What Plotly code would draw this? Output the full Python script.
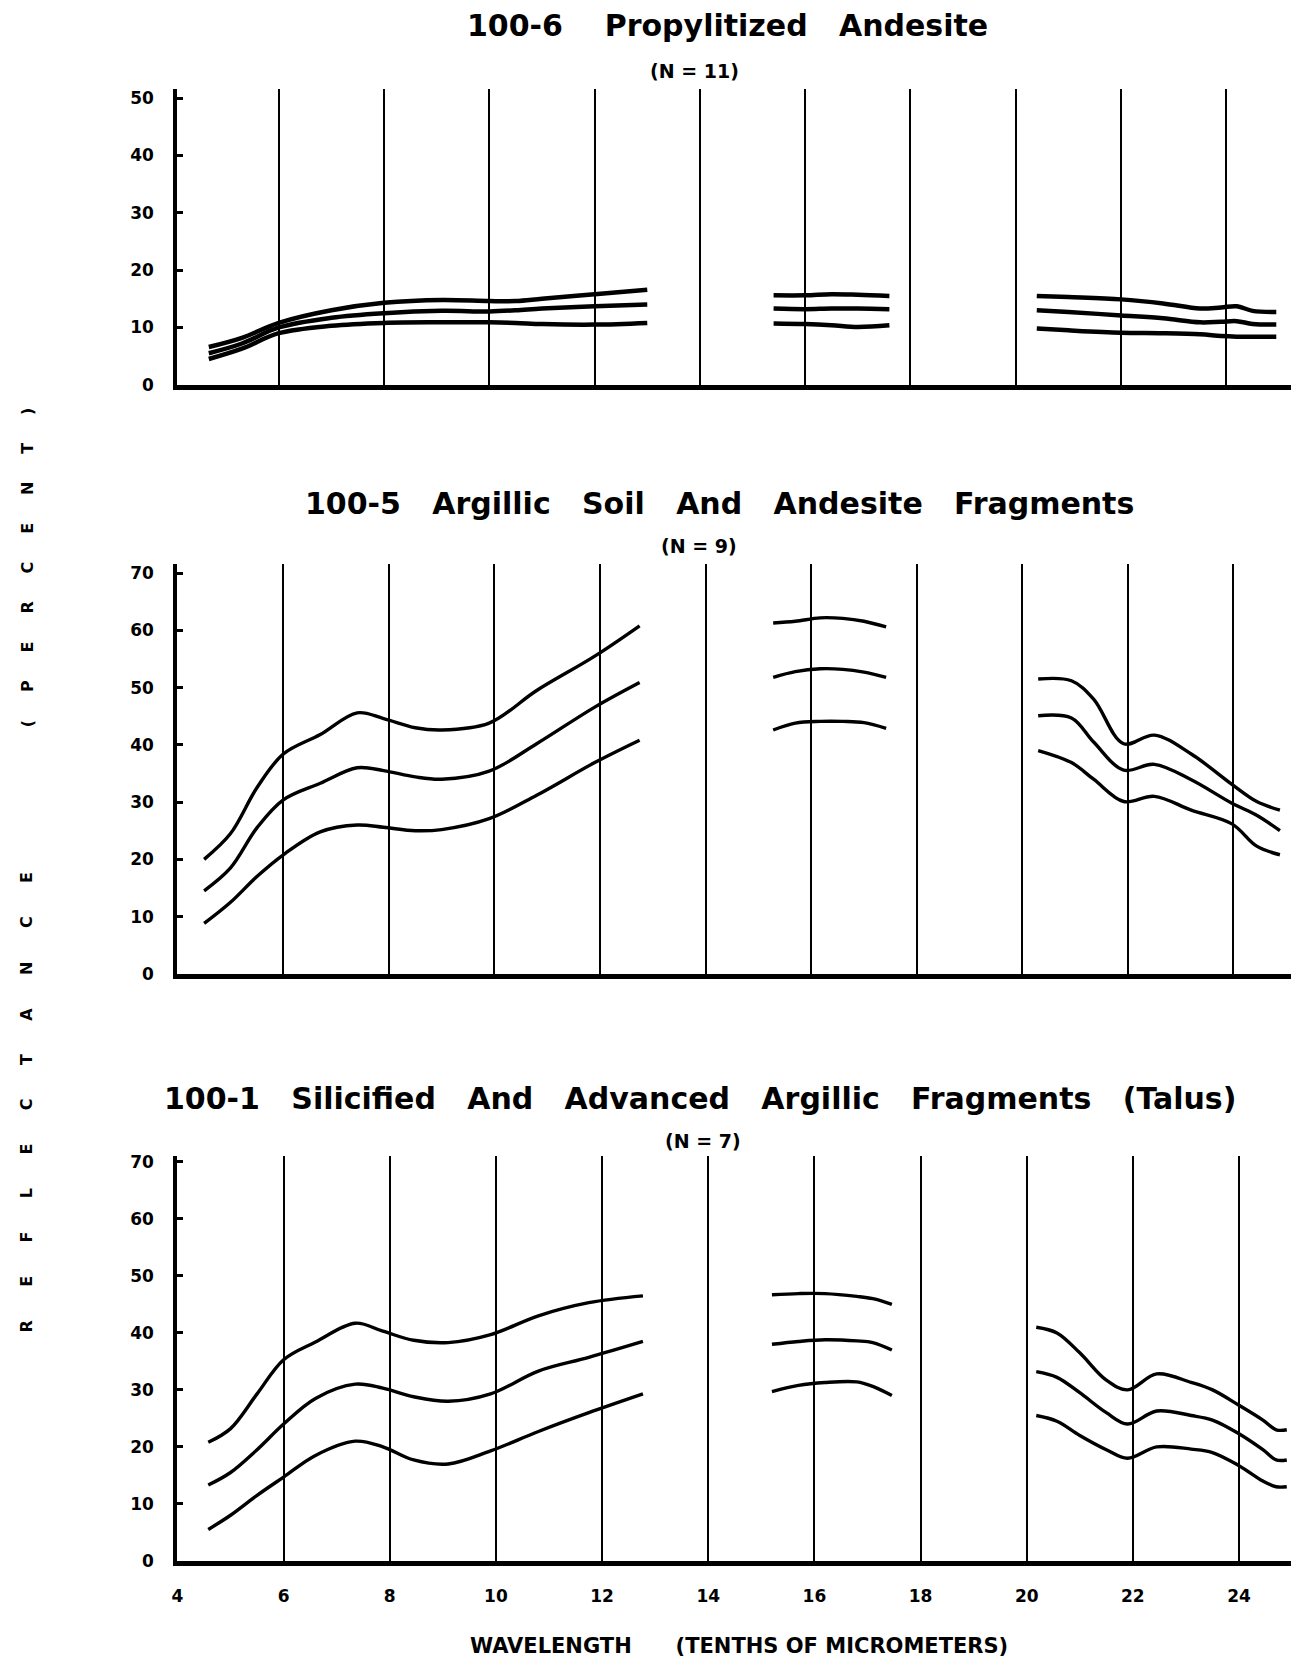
import plotly.graph_objects as go

W, H = 1296, 1668
NB = "\u00a0"

# ---------------- data ----------------
# Panel 1: 100-6 Propylitized Andesite (N=11)
p1_s1_x = [4.67, 5.3, 6.0, 7.0, 8.0, 9.1, 10.0, 10.5, 11.0, 12.0, 13.0]
p1_s1_top = [6.6, 8.2, 10.8, 13.0, 14.3, 14.8, 14.6, 14.6, 15.0, 15.8, 16.6]
p1_s1_mid = [5.5, 7.2, 10.0, 11.7, 12.5, 12.9, 12.8, 13.0, 13.3, 13.7, 14.0]
p1_s1_bot = [4.5, 6.3, 9.0, 10.3, 10.8, 10.9, 10.9, 10.8, 10.6, 10.5, 10.8]
p1_s2_x = [15.4, 16.0, 16.5, 17.0, 17.6]
p1_s2_top = [15.6, 15.6, 15.8, 15.7, 15.5]
p1_s2_mid = [13.3, 13.2, 13.3, 13.3, 13.2]
p1_s2_bot = [10.7, 10.6, 10.4, 10.1, 10.4]
p1_s3_x = [20.4, 21.0, 22.0, 22.8, 23.5, 23.9, 24.2, 24.5, 24.95]
p1_s3_top = [15.5, 15.3, 14.9, 14.2, 13.3, 13.5, 13.7, 12.9, 12.7]
p1_s3_mid = [13.0, 12.7, 12.1, 11.6, 10.9, 11.0, 11.1, 10.6, 10.5]
p1_s3_bot = [9.8, 9.5, 9.1, 9.0, 8.8, 8.5, 8.4, 8.4, 8.4]

# Panel 2: 100-5 Argillic Soil And Andesite Fragments (N=9)
p2_s1_x = [4.5, 5.0, 5.5, 6.0, 6.7, 7.4, 7.9, 8.5, 9.0, 9.9, 10.8, 11.9, 12.75]
p2_s1_top = [20.0, 24.5, 32.5, 38.4, 41.8, 45.6, 44.6, 43.0, 42.6, 43.8, 49.5, 55.5, 60.8]
p2_s1_mid = [14.5, 18.5, 25.5, 30.4, 33.3, 36.0, 35.5, 34.4, 34.0, 35.4, 40.2, 46.6, 50.9]
p2_s1_bot = [8.8, 12.5, 17.0, 20.8, 24.8, 26.0, 25.6, 25.0, 25.2, 27.1, 31.2, 36.9, 40.8]
p2_s2_x = [15.28, 15.7, 16.17, 16.6, 17.0, 17.42]
p2_s2_top = [61.3, 61.6, 62.2, 62.1, 61.6, 60.6]
p2_s2_mid = [51.8, 52.8, 53.3, 53.2, 52.7, 51.8]
p2_s2_bot = [42.6, 43.8, 44.1, 44.1, 43.9, 42.9]
p2_s3_x = [20.3, 20.93, 21.35, 21.92, 22.5, 23.2, 23.97, 24.44, 24.88]
p2_s3_top = [51.5, 51.2, 48.0, 40.2, 41.7, 38.4, 33.1, 30.1, 28.6]
p2_s3_mid = [45.1, 44.7, 40.5, 35.6, 36.6, 33.9, 29.8, 27.7, 25.0]
p2_s3_bot = [39.0, 36.9, 34.0, 30.1, 31.0, 28.6, 26.2, 22.3, 20.8]

# Panel 3: 100-1 Silicified And Advanced Argillic Fragments (Talus) (N=7)
p3_s1_x = [4.58, 5.0, 5.5, 6.0, 6.6, 7.35, 7.87, 8.45, 9.1, 9.9, 10.8, 11.75, 12.77]
p3_s1_top = [20.8, 23.2, 29.3, 35.3, 38.4, 41.7, 40.3, 38.7, 38.3, 39.7, 43.0, 45.3, 46.5]
p3_s1_mid = [13.3, 15.5, 19.5, 24.0, 28.5, 31.0, 30.3, 28.8, 28.0, 29.3, 33.3, 35.7, 38.5]
p3_s1_bot = [5.5, 8.0, 11.5, 14.7, 18.5, 21.0, 20.0, 17.7, 17.0, 19.3, 22.7, 26.0, 29.3]
p3_s2_x = [15.2, 15.7, 16.2, 16.8, 17.1, 17.46]
p3_s2_top = [46.7, 46.9, 46.9, 46.4, 46.0, 45.0]
p3_s2_mid = [38.0, 38.5, 38.8, 38.6, 38.3, 37.0]
p3_s2_bot = [29.7, 30.8, 31.3, 31.4, 30.6, 29.0]
p3_s3_x = [20.18, 20.57, 21.0, 21.5, 21.9, 22.45, 23.1, 23.5, 24.0, 24.45, 24.7, 24.9]
p3_s3_top = [41.0, 40.0, 36.5, 31.7, 30.0, 32.8, 31.3, 30.0, 27.3, 24.7, 23.0, 23.0]
p3_s3_mid = [33.2, 32.2, 29.5, 26.0, 24.0, 26.3, 25.5, 24.7, 22.3, 19.5, 17.7, 17.7]
p3_s3_bot = [25.5, 24.5, 22.0, 19.5, 18.0, 20.0, 19.6, 19.0, 16.7, 14.0, 13.0, 13.0]

x_ticks = [4, 6, 8, 10, 12, 14, 16, 18, 20, 22, 24]
y_ticks_p1 = [0, 10, 20, 30, 40, 50]
y_ticks_p23 = [0, 10, 20, 30, 40, 50, 60, 70]

titles = [
    "100-6" + NB * 4 + "Propylitized" + NB * 3 + "Andesite",
    "100-5" + NB * 3 + "Argillic" + NB * 3 + "Soil" + NB * 3 + "And" + NB * 3 + "Andesite" + NB * 3 + "Fragments",
    "100-1" + NB * 3 + "Silicified" + NB * 3 + "And" + NB * 3 + "Advanced" + NB * 3 + "Argillic"
    + NB * 3 + "Fragments" + NB * 3 + "(Talus)",
]
n_labels = ["(N = 11)", "(N = 9)", "(N = 7)"]

# ---------------- figure ----------------
FONT = "DejaVu Sans"
fig = go.Figure()

panels = [
    ("x", "y", [(p1_s1_x, p1_s1_top, p1_s1_mid, p1_s1_bot),
                (p1_s2_x, p1_s2_top, p1_s2_mid, p1_s2_bot),
                (p1_s3_x, p1_s3_top, p1_s3_mid, p1_s3_bot)], 4.5),
    ("x2", "y2", [(p2_s1_x, p2_s1_top, p2_s1_mid, p2_s1_bot),
                  (p2_s2_x, p2_s2_top, p2_s2_mid, p2_s2_bot),
                  (p2_s3_x, p2_s3_top, p2_s3_mid, p2_s3_bot)], 3.4),
    ("x3", "y3", [(p3_s1_x, p3_s1_top, p3_s1_mid, p3_s1_bot),
                  (p3_s2_x, p3_s2_top, p3_s2_mid, p3_s2_bot),
                  (p3_s3_x, p3_s3_top, p3_s3_mid, p3_s3_bot)], 3.4),
]
for xa, ya, segs, lw in panels:
    for sx, top, mid, bot in segs:
        for ys in (top, mid, bot):
            fig.add_trace(go.Scatter(
                x=sx, y=ys, mode="lines", xaxis=xa, yaxis=ya,
                line=dict(color="black", width=lw, shape="spline", smoothing=1.0),
                showlegend=False, hoverinfo="skip"))


def fy(p):
    return 1 - p / H


def fx(p):
    return p / W


xdom = [fx(172), fx(1291)]
# (top px, zero px, y range top, x range, y ticks)
geo = [
    (86, 384, 51.56, [4.07, 25.23], y_ticks_p1),
    (565, 978, 71.56, [3.99, 25.09], y_ticks_p23),
    (1162, 1570, 71.0, [3.995, 24.98], y_ticks_p23),
]

tickfont = dict(family=FONT, size=17, color="black", weight="bold")
for i, (top, zero, ytop, xr, yt) in enumerate(geo):
    sfx = "" if i == 0 else str(i + 1)
    fig.layout["xaxis" + sfx] = dict(
        domain=xdom, range=xr, anchor="y" + sfx,
        tickmode="array", tickvals=x_ticks,
        showticklabels=(i == 2), tickfont=tickfont, ticks="",
        ticklabelstandoff=16,
        showgrid=True, gridcolor="black", gridwidth=1.8,
        showline=True, linecolor="black", linewidth=5,
        zeroline=False, fixedrange=True,
    )
    fig.layout["yaxis" + sfx] = dict(
        domain=[fy(zero), fy(top)], range=[0, ytop], anchor="x" + sfx,
        tickmode="array", tickvals=yt, tickfont=tickfont,
        ticks="inside", ticklen=6, tickwidth=3, tickcolor="black",
        ticklabelstandoff=16,
        showgrid=False, showline=True, linecolor="black", linewidth=4,
        zeroline=False, fixedrange=True,
    )

annotations = []
title_pos = [(725, 22), (717, 504), (697, 1104)]
n_pos = [(692, 68), (696, 547), (700, 1147)]
for t, (cx, cy) in zip(titles, title_pos):
    annotations.append(dict(text=t, x=fx(cx), y=fy(cy), xref="paper", yref="paper",
                            xanchor="center", yanchor="middle", showarrow=False,
                            font=dict(family=FONT, size=30, color="black", weight="bold")))
for t, (cx, cy) in zip(n_labels, n_pos):
    annotations.append(dict(text=t, x=fx(cx), y=fy(cy), xref="paper", yref="paper",
                            xanchor="center", yanchor="middle", showarrow=False,
                            font=dict(family=FONT, size=19, color="black", weight="bold")))

annotations.append(dict(text=(NB * 6).join("REFLECTANCE"), x=fx(21), y=fy(1107),
                        xref="paper", yref="paper", xanchor="center", yanchor="middle",
                        textangle=-90, showarrow=False,
                        font=dict(family=FONT, size=16, color="black", weight="bold")))
annotations.append(dict(text=(NB * 5).join("(PERCENT)"), x=fx(21), y=fy(568),
                        xref="paper", yref="paper", xanchor="center", yanchor="middle",
                        textangle=-90, showarrow=False,
                        font=dict(family=FONT, size=16, color="black", weight="bold")))
annotations.append(dict(text="WAVELENGTH" + NB * 6 + "(TENTHS OF MICROMETERS)",
                        x=fx(736), y=fy(1656), xref="paper", yref="paper",
                        xanchor="center", yanchor="middle", showarrow=False,
                        font=dict(family=FONT, size=21, color="black", weight="bold")))

fig.update_layout(
    width=W, height=H, margin=dict(l=0, r=0, t=0, b=0),
    paper_bgcolor="white", plot_bgcolor="white",
    annotations=annotations, showlegend=False,
)

fig.write_html("out.html")
